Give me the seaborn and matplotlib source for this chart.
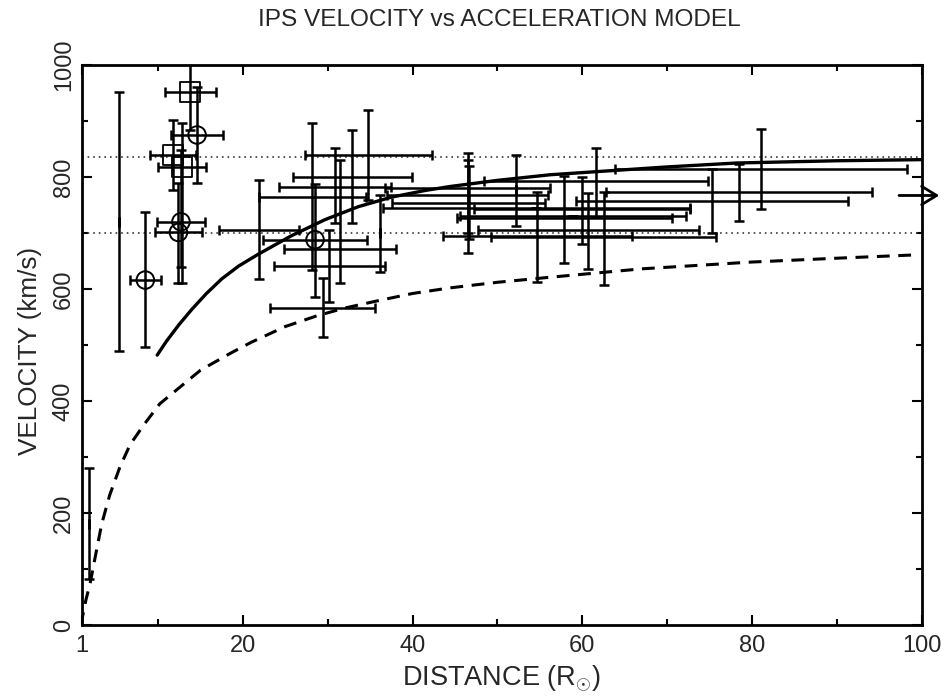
import numpy as np
import pandas as pd
import matplotlib
matplotlib.use("Agg")
import matplotlib.pyplot as plt
import seaborn as sns
from matplotlib import font_manager

# ---------------- data ----------------
pt_x    = [1.9, 5.4, 8.5, 13.8, 14.6, 11.8, 12.8, 12.7, 12.4,
           21.9, 28.5, 28.2, 34.8, 32.9, 30.9, 31.4, 30.2, 29.4, 36.1,
           46.5, 46.5, 46.6, 52.2, 54.6, 54.7, 57.9, 59.95, 60.7, 62.5,
           61.6, 78.5, 75.3, 81.1, 58.9]
pt_xerr = [0.0, 0.0, 1.8, 3.0, 3.1, 2.7, 2.8, 2.85, 2.75,
           4.7, 6.1, 6.3, 7.5, 7.0, 6.6, 6.6, 6.5, 6.2, 0.0,
           9.7, 9.5, 9.0, 0.0, 18.1, 11.1, 12.7, 12.75, 13.0, 13.3,
           13.2, 15.7, 16.0, 17.2, 13.3]
pt_y    = [180, 720, 616, 952, 875, 839, 818, 720, 701,
           705, 688, 765, 839, 800, 783, 671, 641, 566, 700,
           780, 768, 753, 776, 744, 695, 727, 743, 705, 692,
           793, 774, 758, 814, 731]
pt_ylo  = [83, 490, 496, 884, 789, 777, 611, 639, 610,
           617, 586, 634, 759, 718, 717, 610, 577, 515, 631,
           665, 700, 690, 713, 744, 613, 646, 681, 635, 607,
           729, 722, 700, 743, 731]
pt_yhi  = [280, 952, 737, 1020, 960, 902, 896, 848, 790,
           795, 788, 896, 920, 884, 851, 830, 705, 619, 768,
           842, 830, 820, 839, 744, 774, 802, 800, 771, 774,
           851, 824, 815, 885, 731]
pt_mark = ["none", "none", "o", "s", "o", "s", "s", "o", "o",
           "none", "o", "none", "none", "none", "none", "none", "none", "none", "none",
           "none", "none", "none", "none", "none", "none", "none", "none", "none", "none",
           "none", "none", "none", "none", "none"]

accel_x = [9.9, 11, 12.5, 14, 15.7, 17.5, 19.5, 21.8, 25.7, 29.7, 33.6, 37.5, 41.5,
           44.4, 50, 56.2, 64.1, 70, 78.2, 90, 100]
accel_y = [482, 507, 537, 564, 592, 618, 641, 662, 695, 724, 747, 764, 776,
           783, 794, 804, 812, 818, 825, 829, 831]

model_x = [1.0, 1.1, 1.5, 2.0, 2.6, 3.35, 4.3, 5.5, 6.7, 8.3, 10.2, 12.6, 15, 18.5,
           21, 25, 28.7, 32, 36.2, 40, 44.4, 50, 56.2, 67, 79.8, 90, 99.4]
model_y = [0, 15, 45, 75, 122, 180, 232, 282, 322, 357, 395, 425, 455, 485,
           505, 533, 552, 566, 580, 592, 602, 612, 621, 636, 648, 655, 661]

ref_levels = [700, 835]
arrow_y = 767

x_major = [1, 20, 40, 60, 80, 100]
x_minor = [10, 30, 50, 70, 90]
y_major = [0, 200, 400, 600, 800, 1000]
y_minor = [100, 300, 500, 700, 900]

title = "IPS VELOCITY vs ACCELERATION MODEL"
xlabel = r"DISTANCE (R$_{\odot}$)"
ylabel = "VELOCITY (km/s)"

# ---------------- style ----------------
sns.set_theme(style="ticks")
names = {f.name for f in font_manager.fontManager.ttflist}
narrow = "Liberation Sans Narrow" in names
fam = ["Liberation Sans Narrow", "Liberation Sans", "DejaVu Sans"] if narrow else ["Liberation Sans", "DejaVu Sans"]
plt.rcParams["font.family"] = fam
plt.rcParams["mathtext.fontset"] = "custom"
plt.rcParams["mathtext.rm"] = fam[0]
plt.rcParams["mathtext.it"] = fam[0]
k = 1.19 if narrow else 1.0

fig = plt.figure(figsize=(9.45, 6.96), dpi=100)
fig.patch.set_facecolor("white")
ax = fig.add_axes([81.7 / 945, 71 / 696, 840 / 945, 560 / 696])
ax.set_facecolor("white")

df_pts = pd.DataFrame({"x": pt_x, "xerr": pt_xerr, "y": pt_y,
                       "ylo": pt_ylo, "yhi": pt_yhi, "mark": pt_mark})
df_acc = pd.DataFrame({"x": accel_x, "y": accel_y})
df_mod = pd.DataFrame({"x": model_x, "y": model_y})

# model curves
sns.lineplot(data=df_acc, x="x", y="y", ax=ax, color="black", lw=2.4, sort=False,
             estimator=None, zorder=3)
sns.lineplot(data=df_mod, x="x", y="y", ax=ax, color="black", lw=2.2, sort=False,
             estimator=None, zorder=3)
ax.lines[-1].set_dashes((4.2, 2.8))
for ln in ax.lines:
    ln.set_solid_joinstyle("round")
    ln.set_dash_joinstyle("round")

for lv in ref_levels:
    ax.axhline(lv, color="#444444", lw=1.3, ls=(0, (0.9, 2.2)), zorder=1)

# error bars
yerr = np.vstack([df_pts["y"] - df_pts["ylo"], df_pts["yhi"] - df_pts["y"]])
ax.errorbar(df_pts["x"], df_pts["y"], xerr=df_pts["xerr"], yerr=yerr, fmt="none",
            ecolor="black", elinewidth=1.8, capsize=3.4, capthick=1.8, zorder=4)

# markers
circ = df_pts[df_pts["mark"] == "o"]
sq = df_pts[df_pts["mark"] == "s"]
sns.scatterplot(data=circ, x="x", y="y", ax=ax, marker="o", s=160, facecolor="none",
                edgecolor="black", linewidth=1.4, zorder=5)
sns.scatterplot(data=sq, x="x", y="y", ax=ax, marker="s", s=210, facecolor="none",
                edgecolor="black", linewidth=1.3, zorder=5)

# arrow outside right edge
ax.annotate("", xy=(102.4, arrow_y), xytext=(97.0, arrow_y),
            arrowprops=dict(arrowstyle="->,head_length=0.9,head_width=0.55", lw=2.0,
                            color="black"), annotation_clip=False)

ax.set_xlim(1, 100)
ax.set_ylim(0, 1000)
ax.set_xticks(x_major)
ax.set_xticks(x_minor, minor=True)
ax.set_yticks(y_major)
ax.set_yticks(y_minor, minor=True)
ax.set_xticklabels([str(v) for v in x_major], fontsize=17 * k)
ax.set_yticklabels([str(v) for v in y_major], fontsize=17 * k, rotation=90, va="center")
ax.tick_params(which="both", direction="in", top=True, right=True, width=1.5, color="black")
ax.tick_params(which="major", length=7.5)
ax.tick_params(which="minor", length=4.5)
ax.tick_params(axis="x", pad=7)
ax.tick_params(axis="y", pad=5)
for s in ax.spines.values():
    s.set_linewidth(2.0)
    s.set_color("black")
ax.set_xlabel("")
ax.set_ylabel("")

fig.text(0.528, 1 - 20 / 696, title, ha="center", va="center", fontsize=17.6 * k)
fig.text(0.530, 1 - 679 / 696, xlabel, ha="center", va="center", fontsize=19.5 * k)
fig.text(30 / 945, 1 - 351 / 696, ylabel, ha="center", va="center", rotation=90,
         fontsize=18.8 * k)

fig.savefig("out.png", dpi=100, facecolor="white")
